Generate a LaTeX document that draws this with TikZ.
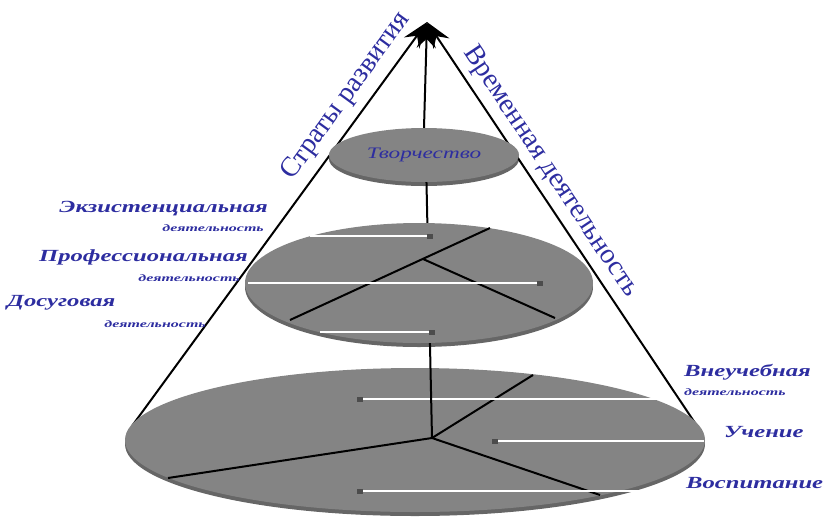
\documentclass[tikz,border=0pt]{standalone}
\usepackage{fontspec}
\setmainfont{Liberation Serif}
\newfontfamily\widefont[FakeStretch=1.45]{Liberation Serif}
\newfontfamily\widerfont[FakeStretch=1.6]{Liberation Serif}
\usetikzlibrary{arrows.meta,calc,shapes.geometric,shadows}
\definecolor{inkblue}{RGB}{45,45,160}
\definecolor{discgray}{RGB}{132,132,132}

\begin{document}
\begin{tikzpicture}[x=1pt,y=-1pt,
  disc/.style={ellipse,inner sep=0pt,fill=discgray,
    drop shadow={shadow xshift=0pt,shadow yshift=-4pt,fill=black,opacity=0.6}},
  knob/.style={rectangle,fill=black!70,minimum width=6pt,minimum height=5pt,inner sep=0pt},
  beam/.style={white,line width=2.6pt},
  spoke/.style={black,line width=2pt},
  cone/.style={black,line width=2pt,-{Stealth[length=26pt,width=19pt,inset=9pt]}},
  stratum/.style={font=\fontsize{28}{28}\selectfont,text=inkblue,inner sep=0pt},
  biglabel/.style={font=\widefont\bfseries\itshape\fontsize{17}{17}\selectfont,text=inkblue,inner sep=0pt},
  smalllabel/.style={font=\widerfont\bfseries\itshape\fontsize{10}{10}\selectfont,text=inkblue,inner sep=0pt}]
\useasboundingbox (0,0) rectangle (830,520);

\coordinate (apex)  at (427,22);
\coordinate (baseL) at (132,426);
\coordinate (baseR) at (695,423);

\draw[cone] (baseL) -- (apex);
\draw[cone] (baseR) -- (apex);

\path (baseL) -- (apex) node[pos=0.785,sloped,above=9pt,stratum] (strata) {Страты развития};
\path (apex) -- (baseR) node[pos=0.40,sloped,above=7pt,stratum] (timeact) {Временная деятельность};

% bottom disc
\node[disc,minimum width=580pt,minimum height=144pt] (base) at (415,440) {};
\coordinate (hubB) at (432,438);
\coordinate (sB1) at (168,478);
\coordinate (sB2) at (533,375);
\coordinate (sB3) at (600,495);
\path (hubB) edge[spoke] (sB1)
      (hubB) edge[spoke] (sB2)
      (hubB) edge[spoke] (sB3);

\foreach \k/\a/\b/\y in {1/360/675/399,2/495/704/441,3/360/650/491} {
  \coordinate (eB\k) at (\b,\y);
  \node[knob] (kB\k) at (\a,\y) {};
  \draw[beam] (kB\k.east) -- (eB\k);
}

\coordinate (axisTop) at (426,160);
\draw[spoke] (hubB) -- (axisTop);

% middle disc
\node[disc,minimum width=348pt,minimum height=120pt] (mid) at (419,283) {};
\coordinate (hubM) at (423,259);
\coordinate (sM1) at (490,228);
\coordinate (sM2) at (290,320);
\coordinate (sM3) at (555,318);
\path (sM2)  edge[spoke] (sM1)
      (hubM) edge[spoke] (sM3);

\foreach \k/\a/\b/\y in {1/310/430/236,2/248/540/283,3/320/432/332} {
  \coordinate (eM\k) at (\a,\y);
  \node[knob] (kM\k) at (\b,\y) {};
  \draw[beam] (eM\k) -- (kM\k.west);
}

% top disc
\node[disc,minimum width=190pt,minimum height=54pt,
  font=\widefont\itshape\fontsize{16}{16}\selectfont,text=inkblue] (crown) at (424,155) {Творчество};
\draw[cone] (crown.north) -- (apex);

\node[biglabel,anchor=east]   (exist)  at (268,209) {Экзистенциальная};
\node[smalllabel,anchor=east] (existd) at (264,228) {деятельность};
\node[biglabel,anchor=east]   (prof)   at (248,257) {Профессиональная};
\node[smalllabel,anchor=east] (profd)  at (240,278) {деятельность};
\node[biglabel,anchor=west]   (leis)   at (7,303)   {Досуговая};
\node[smalllabel,anchor=east] (leisd)  at (206,324) {деятельность};

\node[biglabel,anchor=west]   (extra)  at (684,372) {Внеучебная};
\node[smalllabel,anchor=west] (extrad) at (684,392) {деятельность};
\node[biglabel,anchor=west]   (learn)  at (724,432) {Учение};
\node[biglabel,anchor=west]   (raise)  at (686,483) {Воспитание};
\end{tikzpicture}
\end{document}
